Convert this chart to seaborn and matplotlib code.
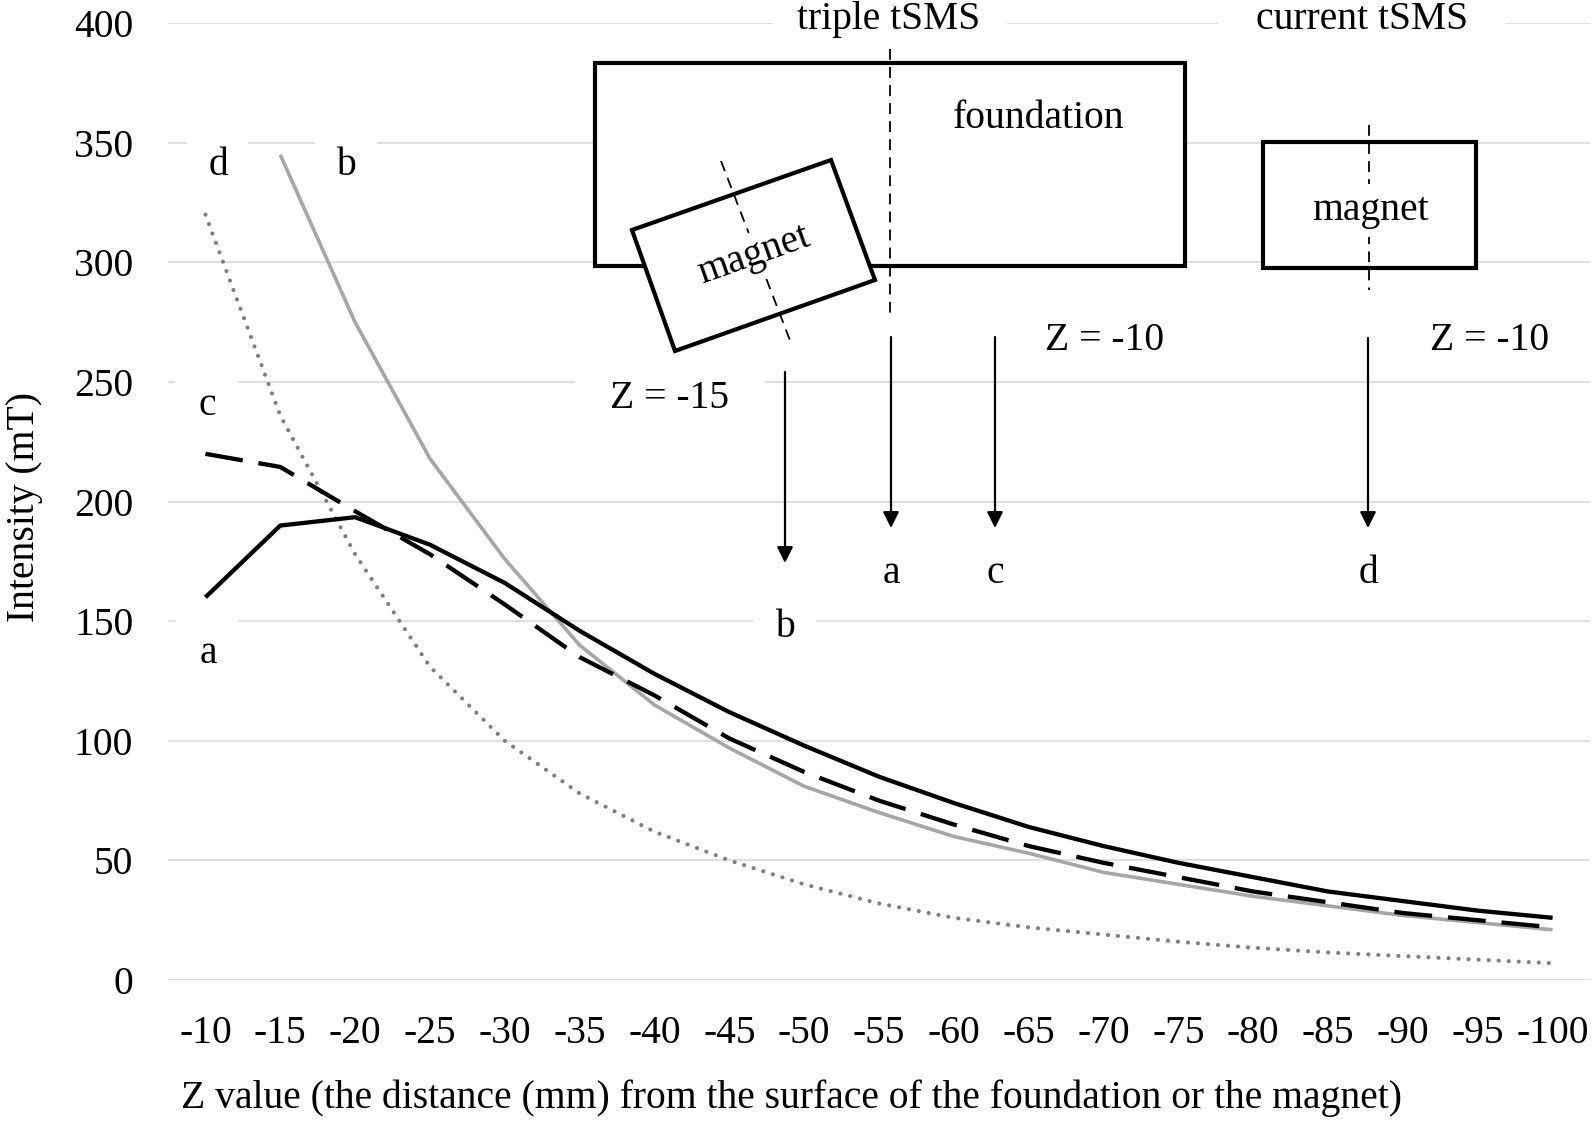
import numpy as np
import pandas as pd
import matplotlib
matplotlib.use("Agg")
import matplotlib.pyplot as plt
from matplotlib.patches import Rectangle, Polygon, FancyArrowPatch
import seaborn as sns

# ---------------- data ----------------
z_labels = ["-10", "-15", "-20", "-25", "-30", "-35", "-40", "-45", "-50", "-55",
            "-60", "-65", "-70", "-75", "-80", "-85", "-90", "-95", "-100"]
series_a = [160, 190, 193.5, 182, 166, 146, 128, 112, 98, 85, 74, 64, 56, 49, 43, 37, 33, 29, 26]
series_b = [np.nan, 345, 275, 218, 176, 140, 115, 97, 81, 70, 60, 53, 45, 40, 35, 31, 27, 24, 21]
series_c = [220, 214.5, 196, 178, 157, 135, 119, 101, 87, 75, 65, 56, 49, 43, 37, 32.5, 28, 25, 22]
series_d = [320, 236, 178, 131, 100, 78, 62, 50, 40, 32, 26, 22, 19, 16, 13.5, 11.5, 10, 8.5, 7]
y_ticks = [0, 50, 100, 150, 200, 250, 300, 350, 400]

sns.set_theme(style="white")
plt.rcParams['font.family'] = ['Liberation Serif', 'DejaVu Serif']
FS = 28.5

W, H = 1593, 1124
fig = plt.figure(figsize=(W / 100, H / 100), dpi=100)
fig.patch.set_facecolor("white")
ax_l, ax_r, ax_t, ax_b = 168, 1590, 23.3, 980
ax = fig.add_axes([ax_l / W, 1 - ax_b / H, (ax_r - ax_l) / W, (ax_b - ax_t) / H])

pos = np.arange(len(z_labels))
df = pd.DataFrame({"pos": pos, "a": series_a, "b": series_b, "c": series_c, "d": series_d})

styles = {
    "a": dict(color="black", lw=3.1, dashes=None, cap="butt"),
    "b": dict(color="#a6a6a6", lw=2.6, dashes=None, cap="butt"),
    "c": dict(color="black", lw=3.1, dashes=(8.8, 3.7), cap="butt"),
    "d": dict(color="#7f7f7f", lw=3.0, dashes=(0.01, 2.4), cap="round"),
}
for key in ["d", "b", "c", "a"]:
    st = styles[key]
    n_before = len(ax.lines)
    sns.lineplot(data=df, x="pos", y=key, ax=ax, color=st["color"], linewidth=st["lw"],
                 estimator=None, sort=False, zorder=3)
    ln = ax.lines[n_before]
    if st["dashes"] is not None:
        ln.set_dashes(st["dashes"])
    ln.set_dash_capstyle(st["cap"])
    ln.set_solid_capstyle("butt")

ax.set_xlim(-0.5, len(z_labels) - 0.5)
ax.set_ylim(0, 400)
ax.set_xticks(pos)
ax.set_xticklabels(z_labels)
ax.set_yticks(y_ticks)
ax.set_yticklabels([str(v) for v in y_ticks])
ax.set_xlabel("")
ax.set_ylabel("")
ax.set_axisbelow(True)
ax.yaxis.grid(True, color="#d9d9d9", lw=1.2)
ax.xaxis.grid(False)
for s in ax.spines.values():
    s.set_visible(False)
ax.tick_params(axis="both", length=0, pad=25, labelsize=FS, colors="black")

fig.text(181 / W, 1 - 1108 / H, "Z value (the distance (mm) from the surface of the foundation or the magnet)",
         ha="left", va="baseline", fontsize=FS, color="black")
fig.text(25 / W, 1 - 507 / H, "Intensity (mT)", rotation=90, ha="center", va="center",
         fontsize=FS, color="black")

# ---------------- diagram overlay (pixel coordinates) ----------------
ov = fig.add_axes([0, 0, 1, 1])
ov.set_xlim(0, W)
ov.set_ylim(H, 0)
ov.axis("off")


def wbox(x0, x1, y0, y1):
    ov.add_patch(Rectangle((x0, y0), x1 - x0, y1 - y0, facecolor="white", edgecolor="none", zorder=1))


def txt(x, y, s, **kw):
    ov.text(x, y, s, ha="center", va="baseline", fontsize=FS, color="black", zorder=6, **kw)


# labels next to curves
wbox(187, 248, 120, 205); txt(218, 175, "d")
wbox(315, 377, 120, 205); txt(346, 175, "b")
wbox(175, 238, 360, 444); txt(207, 415, "c")
wbox(176, 238, 605, 690); txt(208, 663, "a")

# titles
wbox(773, 1007, 0, 45); txt(889, 29, "triple tSMS")
wbox(1218, 1506, 0, 45); txt(1362, 29, "current tSMS")

# foundation
ov.add_patch(Rectangle((595, 63), 1185 - 595, 266 - 63, facecolor="white", edgecolor="black", lw=3, zorder=2))
ov.plot([890, 890], [49, 315], color="black", lw=1.3, linestyle=(0, (6, 4)), zorder=4)
txt(1039, 128, "foundation")

# tilted magnet
ov.add_patch(Polygon([(632, 230), (831, 160), (875, 280), (675, 351)], closed=True,
                     facecolor="white", edgecolor="black", lw=3, zorder=3, joinstyle="miter"))
ov.plot([721, 791], [161, 343], color="black", lw=1.3, linestyle=(0, (6, 4)), zorder=4)
ov.text(754, 255, "magnet", ha="center", va="center", rotation=19.4, rotation_mode="anchor",
        fontsize=FS, color="black", zorder=6,
        bbox=dict(boxstyle="square,pad=0.1", facecolor="white", edgecolor="none"))

# current magnet
ov.add_patch(Rectangle((1263, 142), 1476 - 1263, 268 - 142, facecolor="white", edgecolor="black", lw=3, zorder=3))
ov.plot([1369, 1369], [125, 290], color="black", lw=1.3, linestyle=(0, (6, 4)), zorder=4)
ov.text(1370, 220, "magnet", ha="center", va="baseline", fontsize=FS, color="black", zorder=6,
        bbox=dict(boxstyle="square,pad=0.2", facecolor="white", edgecolor="none"))

# Z labels
wbox(575, 765, 372, 392); txt(670, 408, "Z = -15")
txt(1105, 350, "Z = -10")
txt(1490, 350, "Z = -10")

# arrows
for x, y0, y1 in [(785, 372, 563), (891, 337, 528), (995, 337, 528), (1368, 338, 528)]:
    ov.add_patch(FancyArrowPatch((x, y0), (x, y1), arrowstyle="-|>,head_length=0.6,head_width=0.3",
                                 mutation_scale=16, lw=1.6, color="black", shrinkA=0, shrinkB=0, zorder=5))

wbox(753, 816, 585, 660); txt(785, 637, "b")
txt(891, 583, "a")
txt(995, 583, "c")
txt(1368, 583, "d")

fig.savefig("out.png", dpi=100, facecolor="white")
